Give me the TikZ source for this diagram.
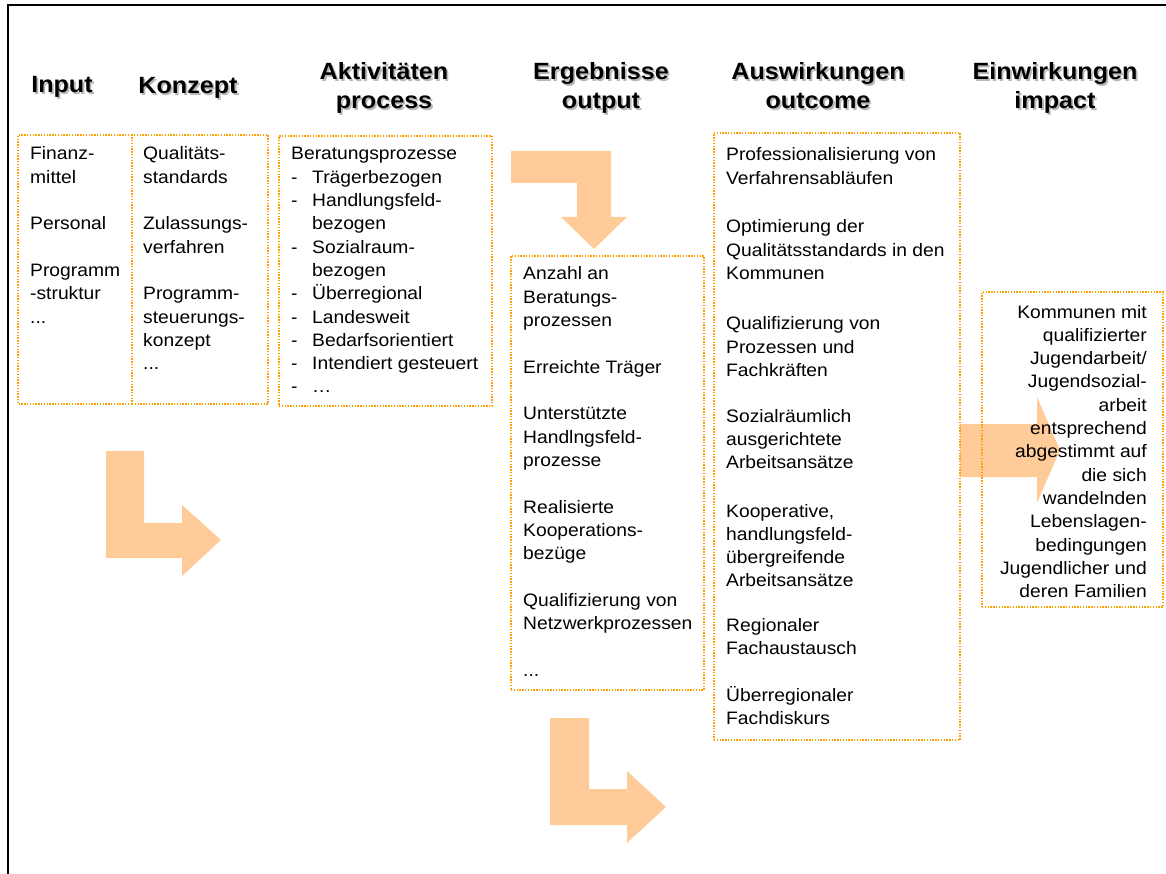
\documentclass[tikz,border=0pt]{standalone}
\usepackage{fontspec}
\setmainfont[FakeStretch=1.07]{Liberation Sans}
\definecolor{arrowfill}{RGB}{255,204,153}
\definecolor{dotorange}{RGB}{255,160,0}
\newcommand{\bodyfont}{\fontsize{18}{23.3}\selectfont}
\newcommand{\headfont}{\fontsize{23.5}{29}\selectfont\bfseries}
\newcommand{\lidash}{\makebox[21pt][l]{-}}
\newcommand{\lihang}{\hspace*{21pt}}
\begin{document}
\begin{tikzpicture}[x=1pt,y=-1pt,
  dotline/.style={draw=dotorange, line width=1.3pt, dash pattern=on 1.4pt off 1.4pt},
  obox/.style={dotline, inner sep=0pt, outer sep=0pt, anchor=north west},
  ghostbox/.style={inner sep=0pt, outer sep=0pt, anchor=north west},
  txt/.style={inner sep=0pt, font=\bodyfont, anchor=base west},
  hdr/.style={inner sep=0pt, font=\headfont, anchor=base, text=black},
  hshadow/.style={hdr, text=black!28},
  bigarrow/.style={fill=arrowfill, draw=none}
]
\useasboundingbox (0,0) rectangle (1166,874);
% frame
\draw[line width=2pt] (8,874) -- (8,5) -- (1166,5);

% headers (shadow + text)
\node[hshadow] at (63.8,94.8) {Input};
\node[hdr] (hIn) at (62,93) {Input};
\node[hshadow] at (189.8,95.8) {Konzept};
\node[hdr] (hKo) at (188,94) {Konzept};
\node[hshadow] at (385.8,81.8) {\parbox[t]{220pt}{\centering Aktivitäten\\process}};
\node[hdr] (hAk) at (384,80) {\parbox[t]{220pt}{\centering Aktivitäten\\process}};
\node[hshadow] at (602.8,81.8) {\parbox[t]{220pt}{\centering Ergebnisse\\output}};
\node[hdr] (hEr) at (601,80) {\parbox[t]{220pt}{\centering Ergebnisse\\output}};
\node[hshadow] at (819.8,81.8) {\parbox[t]{240pt}{\centering Auswirkungen\\outcome}};
\node[hdr] (hAu) at (818,80) {\parbox[t]{240pt}{\centering Auswirkungen\\outcome}};
\node[hshadow] at (1056.8,81.8) {\parbox[t]{220pt}{\centering Einwirkungen\\impact}};
\node[hdr] (hEi) at (1055,80) {\parbox[t]{220pt}{\centering Einwirkungen\\impact}};

% arrows
\fill[bigarrow] (106,451) -- (144,451) -- (144,523) -- (182,523) -- (182,505) -- (221,540) -- (182,576) -- (182,558) -- (106,558) -- cycle;
\fill[bigarrow] (511,151) -- (611,151) -- (611,217) -- (627,217) -- (594,249) -- (561,217) -- (577,217) -- (577,183) -- (511,183) -- cycle;
\fill[bigarrow] (550,718) -- (589,718) -- (589,789) -- (627,789) -- (627,771) -- (666,807) -- (627,843) -- (627,825) -- (550,825) -- cycle;
\fill[bigarrow] (960,424) -- (1037,424) -- (1037,397) -- (1060,450) -- (1037,503) -- (1037,477) -- (960,477) -- cycle;

% boxes
\node[ghostbox, minimum width=114pt, minimum height=269pt] (bIn) at (18,135) {};
\draw[dotline] (bIn.north east) -- (bIn.north west) -- (bIn.south west) -- (bIn.south east);
\node[obox, minimum width=136pt, minimum height=269pt] (bKo) at (132,135) {};
\node[obox, minimum width=213pt, minimum height=270pt] (bAk) at (279,136) {};
\node[obox, minimum width=193pt, minimum height=434pt] (bEr) at (511,256) {};
\node[obox, minimum width=246pt, minimum height=607pt] (bAu) at (714,133) {};
\node[obox, minimum width=181pt, minimum height=315pt] (bEi) at (982,292) {};

% texts
\node[txt] (tIn) at (30,160) {\parbox[t]{100pt}{\raggedright Finanz-\\mittel\\[23.3pt]Personal\\[23.3pt]Programm\\-struktur\\...}};
\node[txt] (tKo) at (143,160) {\parbox[t]{120pt}{\raggedright Qualitäts-\\standards\\[23.3pt]Zulassungs-\\verfahren\\[23.3pt]Programm-\\steuerungs-\\konzept\\...}};
\node[txt] (tAk) at (291,160) {\parbox[t]{200pt}{\raggedright Beratungsprozesse\\\lidash Trägerbezogen\\\lidash Handlungsfeld-\\\lihang bezogen\\\lidash Sozialraum-\\\lihang bezogen\\\lidash Überregional\\\lidash Landesweit\\\lidash Bedarfsorientiert\\\lidash Intendiert gesteuert\\\lidash …}};
\node[txt] (tEr) at (523,280) {\parbox[t]{185pt}{\raggedright Anzahl an\\Beratungs-\\prozessen\\[23.3pt]Erreichte Träger\\[23.3pt]Unterstützte\\Handlngsfeld-\\prozesse\\[23.3pt]Realisierte\\Kooperations-\\bezüge\\[23.3pt]Qualifizierung von\\Netzwerkprozessen\\[23.3pt]...}};
\node[txt] (tAu1) at (726,161) {\parbox[t]{240pt}{\raggedright Professionalisierung von\\Verfahrensabläufen}};
\node[txt] (tAu2) at (726,233) {\parbox[t]{240pt}{\raggedright Optimierung der\\Qualitätsstandards in den\\Kommunen}};
\node[txt] (tAu3) at (726,330) {\parbox[t]{240pt}{\raggedright Qualifizierung von\\Prozessen und\\Fachkräften}};
\node[txt] (tAu4) at (726,422) {\parbox[t]{240pt}{\raggedright Sozialräumlich\\ausgerichtete\\Arbeitsansätze}};
\node[txt] (tAu5) at (726,517) {\parbox[t]{240pt}{\raggedright Kooperative,\\handlungsfeld-\\übergreifende\\Arbeitsansätze}};
\node[txt] (tAu6) at (726,631) {\parbox[t]{240pt}{\raggedright Regionaler\\Fachaustausch}};
\node[txt] (tAu7) at (726,701) {\parbox[t]{240pt}{\raggedright Überregionaler\\Fachdiskurs}};
\node[txt, anchor=base east] (tEi) at (1147,318) {\parbox[t]{175pt}{\raggedleft Kommunen mit\\qualifizierter\\Jugendarbeit/\\Jugendsozial-\\arbeit\\entsprechend\\abgestimmt auf\\die sich\\wandelnden\\Lebenslagen-\\bedingungen\\Jugendlicher und\\deren Familien}};
\end{tikzpicture}
\end{document}
